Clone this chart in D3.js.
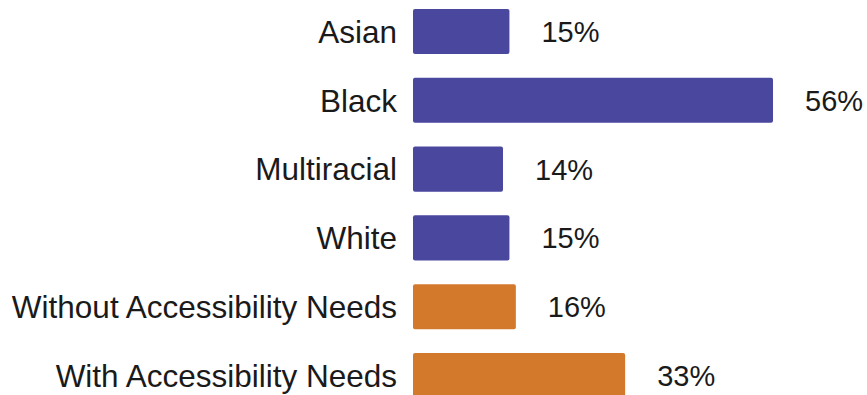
<!DOCTYPE html>
<html>
<head>
<meta charset="utf-8">
<script src="https://cdn.jsdelivr.net/npm/d3@7"></script>
<style>
    body { margin: 0; background: #fff; }
    text { font-family: "Liberation Sans", Arial, sans-serif; fill: #1a1a1a; }
</style>
</head>
<body>
<div id="chart"></div>
<script>
var categories = ["Asian", "Black", "Multiracial", "White", "Without Accessibility Needs", "With Accessibility Needs"];
var values = [15, 56, 14, 15, 16, 33];
var groups = ["race", "race", "race", "race", "access", "access"];

var colors = {
    "race": "#4a479f",
    "access": "#d3792c"
};

var width = 867,
    height = 395;

var svg = d3.select("#chart").append("svg")
    .attr("width", width)
    .attr("height", height);

var data = categories.map(function (c, i) {
    return { name: c, value: values[i], group: groups[i] };
});

// x: bars start at 413, 56% reaches ~773
var x = d3.scaleLinear()
    .domain([0, 56])
    .range([413, 773]);

var y = d3.scaleBand()
    .domain(categories)
    .range([9, 398])
    .paddingInner(0.345)
    .paddingOuter(0);

var row = svg.selectAll("g.row")
    .data(data)
    .enter()
    .append("g")
    .attr("class", "row");

row.append("rect")
    .attr("x", x(0))
    .attr("y", function (d) { return y(d.name); })
    .attr("width", function (d) { return x(d.value) - x(0); })
    .attr("height", y.bandwidth())
    .attr("rx", 2)
    .attr("fill", function (d) { return colors[d.group]; });

row.append("text")
    .attr("x", 397)
    .attr("y", function (d) { return y(d.name) + y.bandwidth() / 2; })
    .attr("dy", "0.36em")
    .attr("text-anchor", "end")
    .style("font-size", "31.5px")
    .text(function (d) { return d.name; });

row.append("text")
    .attr("x", function (d) { return x(d.value) + 32; })
    .attr("y", function (d) { return y(d.name) + y.bandwidth() / 2; })
    .attr("dy", "0.36em")
    .style("font-size", "29px")
    .text(function (d) { return d.value + "%"; });
</script>
</body>
</html>
